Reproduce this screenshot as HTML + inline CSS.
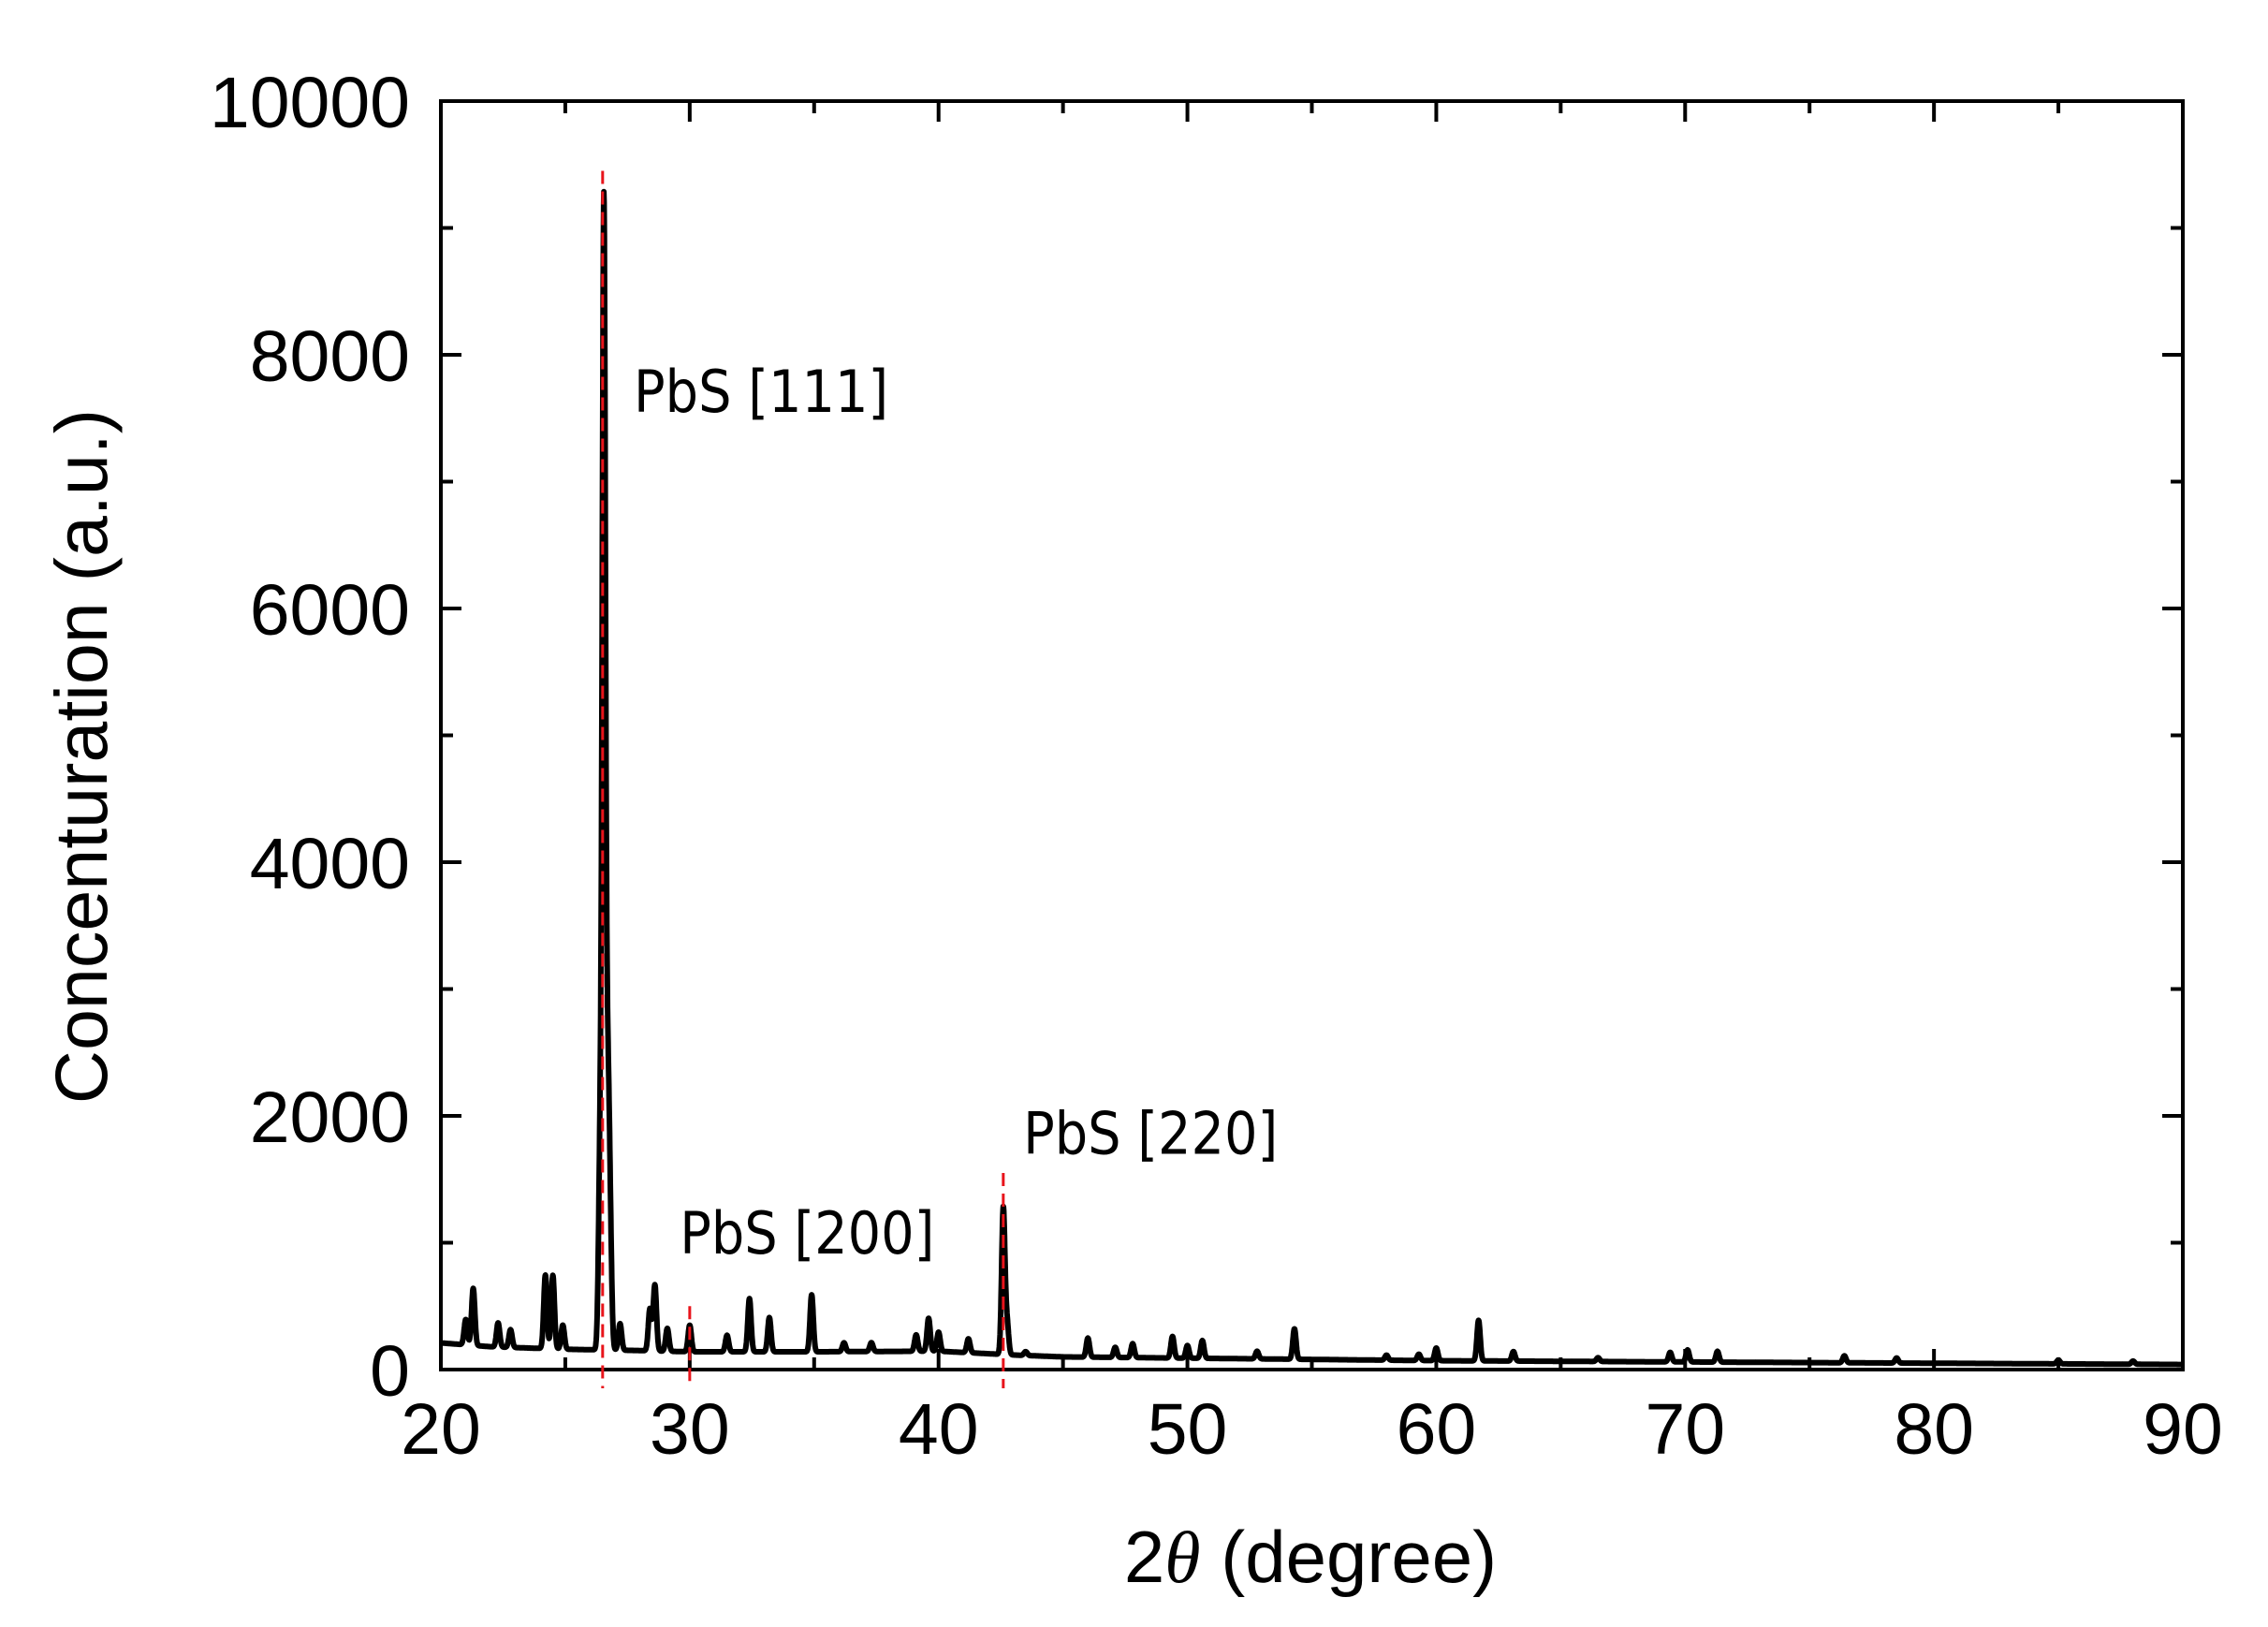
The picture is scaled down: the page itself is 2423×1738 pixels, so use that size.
<!DOCTYPE html>
<html><head><meta charset="utf-8"><style>
html,body{margin:0;padding:0;background:#fff;}
svg{display:block;}
</style></head><body>
<svg id="chart" width="2423" height="1738" xmlns="http://www.w3.org/2000/svg" font-family="Liberation Sans, sans-serif">
<g id="axes"></g>
<g id="series"></g>
<g id="refs"></g>
<g id="labels"></g>
</svg>
<script>
const xTicks=[20,30,40,50,60,70,80,90];
const yTicks=[0,2000,4000,6000,8000,10000];
const baseX=[20,22,25,28,30,35,40,43,45,50,55,60,65,70,80,90];
const baseY=[210,180,160,150,140,140,145,115,100,90,80,70,65,60,50,40];
const peakPos=[21.0,21.3,22.3,22.8,24.2,24.5,24.9,26.4,26.55,26.7,26.8,27.2,28.4,28.6,29.1,30.0,31.5,32.4,33.2,34.9,36.2,37.3,39.1,39.6,40.0,41.2,42.6,42.75,43.5,46.0,47.1,47.8,49.4,50.0,50.6,52.8,54.3,58.0,59.3,60.0,61.7,63.1,66.5,69.4,70.1,71.3,76.4,78.5,85.0,88.0];
const peakHeight=[200,450,190,140,580,580,190,1500,8900,1800,900,210,330,520,180,210,130,420,270,450,70,70,130,260,150,110,1150,250,30,150,80,110,170,100,140,60,240,40,50,100,320,75,30,75,95,85,55,40,30,25];
const refPos=[26.5,30.0,42.6];
const refTop=[9450,500,1550];
const annText=['PbS [111]','PbS [200]','PbS [220]'];
const annX=[27.75,29.6,43.4];
const annY=[7550,915,1700];

const L=471,R=2332,T=108,B=1463;
const sx=v=>L+(v-20)/70*(R-L);
const sy=v=>B-v/10000*(B-T);
const NS='http://www.w3.org/2000/svg';
function mk(tag,attrs,parent){const e=document.createElementNS(NS,tag);for(const k in attrs)e.setAttribute(k,attrs[k]);parent.appendChild(e);return e;}
const axes=document.getElementById('axes');
const frame=mk('rect',{x:L,y:T,width:R-L,height:B-T,fill:'none',stroke:'#000','stroke-width':4},axes);


for(let v=20;v<=90;v+=5){const maj=v%10===0;const len=maj?22:13;
 const t1=mk('line',{x1:sx(v),x2:sx(v),y1:B,y2:B-len,stroke:'#000','stroke-width':4},axes);
 
 
 const t2=mk('line',{x1:sx(v),x2:sx(v),y1:T,y2:T+len,stroke:'#000','stroke-width':4},axes);
 
 }
for(let v=0;v<=10000;v+=1000){const maj=v%2000===0;const len=maj?22:13;
 const t1=mk('line',{x1:L,x2:L+len,y1:sy(v),y2:sy(v),stroke:'#000','stroke-width':4},axes);
 
 
 const t2=mk('line',{x1:R,x2:R-len,y1:sy(v),y2:sy(v),stroke:'#000','stroke-width':4},axes);
 
 }
const lab=document.getElementById('labels');
xTicks.forEach(v=>{const t=mk('text',{x:sx(v),y:1553,'font-size':77,'text-anchor':'middle',fill:'#000'},lab);t.textContent=v;
 
 });
yTicks.forEach(v=>{const t=mk('text',{x:438,y:sy(v)+28,'font-size':77,'text-anchor':'end',fill:'#000'},lab);t.textContent=v;
 
 });
const xt=mk('text',{x:1400,y:1690,'font-size':78,'text-anchor':'middle',fill:'#000'},lab);
xt.innerHTML='2<tspan font-style="italic" font-family="Liberation Serif, serif">θ</tspan> (degree)';


const yt=mk('text',{x:0,y:0,'font-size':79,'text-anchor':'middle',fill:'#000',transform:'translate(114,808) rotate(-90)'},lab);
yt.textContent='Concenturation (a.u.)';


annText.forEach((s,i)=>{const t=mk('text',{x:sx(annX[i]),y:sy(annY[i]),'font-size':62,fill:'#000','font-family':'DejaVu Sans Condensed, DejaVu Sans, sans-serif'},lab);t.textContent=s;
 
 });
function base(x){for(let i=0;i<baseX.length-1;i++){if(x<=baseX[i+1]){const f=(x-baseX[i])/(baseX[i+1]-baseX[i]);return baseY[i]+f*(baseY[i+1]-baseY[i]);}}return baseY[baseY.length-1];}
let pts=[];
for(let x=20;x<=90.0001;x+=0.01){let y=base(x);
 for(let j=0;j<peakPos.length;j++){const d=(x-peakPos[j])/0.065;if(Math.abs(d)<6)y+=peakHeight[j]*Math.exp(-0.5*d*d);}
 pts.push(sx(x).toFixed(1)+','+sy(y).toFixed(1));}
const line=mk('polyline',{points:pts.join(' '),fill:'none',stroke:'#000','stroke-width':6,'stroke-linejoin':'round'},document.getElementById('series'));


const refs=document.getElementById('refs');
refPos.forEach((p,i)=>{const l=mk('line',{x1:sx(p),x2:sx(p),y1:sy(refTop[i]),y2:B+20,stroke:'#e8141b','stroke-width':3,'stroke-dasharray':'14,8'},refs);
 
 });
</script>
</body></html>
